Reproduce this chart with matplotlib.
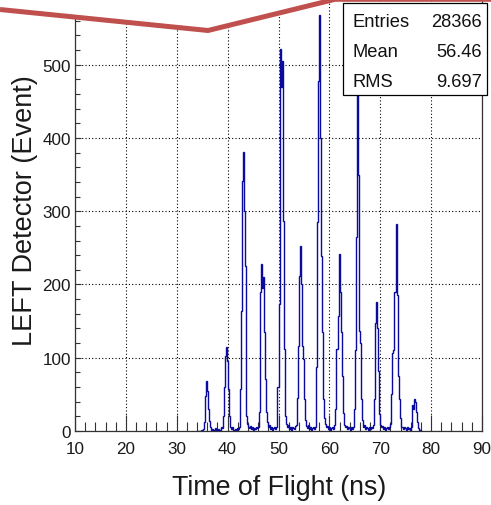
import matplotlib
matplotlib.use('Agg')
import matplotlib.pyplot as plt
import numpy as np
from matplotlib.patches import Rectangle, Polygon
from matplotlib.lines import Line2D
from matplotlib.ticker import MultipleLocator

# ---------------- data ----------------
hist_start = 34.0      # ns, left edge of first bin
bin_width = 0.2        # ns
counts = [
    0, 0, 0, 0, 1, 2, 3, 12, 48, 68, 55, 30, 14, 5, 2,            # 34.0 - 36.8
    3, 1, 2, 4, 2, 1, 3, 2, 5, 4, 20, 60, 103, 114, 95,           # 37.0 - 39.8
    57, 20, 6, 3, 5, 2, 1, 3, 2, 4, 3, 5, 57, 164, 341,           # 40.0 - 42.8
    381, 300, 225, 21, 9, 6, 4, 7, 3, 5, 2, 4, 3, 6, 4,           # 43.0 - 45.8
    6, 26, 190, 228, 195, 210, 135, 71, 26, 12, 6, 8, 3, 5, 2,    # 46.0 - 48.8
    4, 6, 3, 5, 60, 173, 521, 470, 505, 287, 112, 20, 10, 6, 8,   # 49.0 - 51.8
    3, 5, 2, 6, 4, 3, 7, 8, 45, 116, 212, 253, 200, 116, 98,      # 52.0 - 54.8
    44, 15, 7, 4, 8, 3, 5, 2, 4, 6, 3, 6, 87, 285, 478,           # 55.0 - 57.8
    568, 400, 239, 135, 44, 18, 9, 5, 7, 3, 6, 2, 4, 5, 3,        # 58.0 - 60.8
    8, 30, 112, 157, 241, 190, 135, 75, 25, 8, 5, 7, 3, 6, 4,     # 61.0 - 63.8
    2, 5, 3, 6, 30, 110, 265, 490, 350, 137, 120, 44, 15, 6, 8,   # 64.0 - 66.8
    3, 5, 4, 2, 6, 3, 5, 4, 8, 44, 148, 176, 140, 82, 23,         # 67.0 - 69.8
    8, 5, 7, 3, 6, 2, 4, 5, 3, 6, 10, 50, 107, 110, 190,          # 70.0 - 72.8
    282, 185, 75, 44, 18, 6, 5, 3, 6, 4, 2, 5, 3, 4, 2,           # 73.0 - 75.8
    6, 35, 30, 44, 40, 26, 12, 4, 2, 1,                           # 76.0 - 77.8
]
x_ticks = [10, 20, 30, 40, 50, 60, 70, 80, 90]
y_ticks = [0, 100, 200, 300, 400, 500]
x_label = "Time of Flight (ns)"
y_label = "LEFT Detector (Event)"
stats_names = ["Entries", "Mean", "RMS"]
stats_values = ["28366", "56.46", "9.697"]

# ---------------- figure ----------------
W, H = 491, 506
plt.rcParams['font.family'] = ['Liberation Sans', 'DejaVu Sans']
fig = plt.figure(figsize=(W / 100, H / 100), dpi=100)
fig.patch.set_facecolor('white')

def fx(x):
    return x / W

def fy(y):
    return 1 - y / H

ax_left, ax_right, ax_bottom, ax_top = 75, 482, 432, 0
ax = fig.add_axes([fx(ax_left), fy(ax_bottom), (ax_right - ax_left) / W, (ax_bottom - ax_top) / H])

edges = hist_start + bin_width * np.arange(len(counts) + 1)
ax.stairs(counts, edges, color='#0a0a9e', linewidth=1.0, zorder=3)

ax.set_xlim(10, 90)
ax.set_ylim(0, 589.7)
ax.set_xticks(x_ticks)
ax.set_yticks(y_ticks)
ax.xaxis.set_minor_locator(MultipleLocator(2))
ax.yaxis.set_minor_locator(MultipleLocator(20))

tick_col = '#333333'
ax.tick_params(axis='x', which='major', direction='in', length=11.5, width=0.8,
               color=tick_col, pad=7, labelsize=12.3, labelcolor='#1a1a1a')
ax.tick_params(axis='x', which='minor', direction='in', length=6.5, width=0.8, color=tick_col)
ax.tick_params(axis='y', which='major', direction='in', length=4.5, width=0.8,
               color=tick_col, pad=3, labelsize=12.3, labelcolor='#1a1a1a')
ax.tick_params(axis='y', which='minor', direction='in', length=3.6, width=0.8, color=tick_col)

ax.grid(True, which='major', color='black', linestyle=(0, (1, 2)), linewidth=0.8)
ax.set_axisbelow(True)
for s in ['left', 'bottom', 'right']:
    ax.spines[s].set_color(tick_col)
    ax.spines[s].set_linewidth(0.9)
ax.spines['top'].set_visible(False)

# axis titles
fig.text(fx(279), fy(495), x_label, ha='center', va='baseline',
         fontsize=19.3, color='#1a1a1a')
fig.text(fx(25), fy(211), y_label, ha='center', va='center', rotation=90,
         fontsize=19.5, color='#1a1a1a')

# stats box
box = Rectangle((fx(343), fy(95.5)), (487 - 343) / W, (95.5 - 4) / H,
                transform=fig.transFigure, facecolor='white', edgecolor='black',
                linewidth=0.9, zorder=10)
fig.patches.append(box)
for i, (n, v) in enumerate(zip(stats_names, stats_values)):
    yb = 27.3 + 30 * i
    fig.text(fx(352), fy(yb), n, ha='left', va='baseline', fontsize=13.2, zorder=11, color='#111111')
    fig.text(fx(482), fy(yb), v, ha='right', va='baseline', fontsize=13.2, zorder=11, color='#111111')

# white mask with red edge across the top
red_pts = [(0, 10.5), (208, 31.5), (335, 0.3), (491, 0.3)]
mask_pts = [(0, -10)] + red_pts + [(491, -10)]
mask = Polygon([(fx(x), fy(y)) for x, y in mask_pts], closed=True, transform=fig.transFigure,
               facecolor='white', edgecolor='none', zorder=20)
fig.patches.append(mask)
red = Line2D([fx(x) for x, y in red_pts], [fy(y) for x, y in red_pts], transform=fig.transFigure,
             color='#c0504d', linewidth=3.6, solid_joinstyle='miter', solid_capstyle='butt', zorder=21)
fig.lines.append(red)

fig.savefig('out.png', dpi=100)
